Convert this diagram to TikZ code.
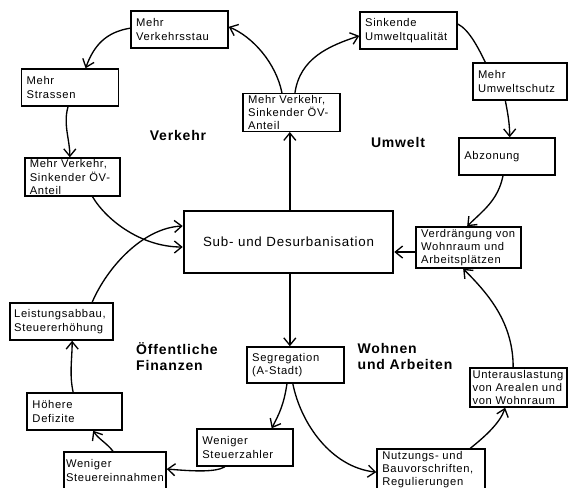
\documentclass[tikz,border=0pt]{standalone}
\usepackage{fontspec}
\setmainfont{Liberation Sans}[LetterSpace=6]
\usetikzlibrary{arrows.meta}

\tikzset{
	kasten/.style={draw, line width=1.1pt, align=left, inner xsep=0pt, inner ysep=1pt,
		minimum width=72.75pt, minimum height=27.75pt, text width=65pt,
		font=\fontsize{8.4}{10}\selectfont},
	mitte/.style={draw, line width=1.9pt, minimum width=156.75pt, minimum height=46.5pt,
		font=\fontsize{10}{12}\selectfont},
	thema/.style={align=left, inner sep=0pt, font=\fontsize{10.5}{12}\selectfont\bfseries},
	pfeil/.style={line width=1pt, -{Straight Barb[length=5.5pt,width=9pt]}},
	linie/.style={line width=1pt}}
\tikzset{every picture/.style={line width=0.75pt}}

\begin{document}
\begin{tikzpicture}[x=0.75pt,y=0.75pt,yscale=-1,xscale=1]
	\clip (0,0) rectangle (568,488);

	%Shape: Rectangle [id:zentrum]
	\node[mitte] (zentrum) at (288.5,242) {Sub- und Desurbanisation};

	%Shape: Rectangle [id:verkehr-kreis]
	\node[kasten] (verkM) at (291.5,112.5) {Mehr Verkehr,\\Sinkender ÖV-\\Anteil};
	\node[kasten] (stau) at (179.5,29.5) {Mehr\\Verkehrsstau};
	\node[kasten] (strassen) at (70,87.5) {Mehr\\Strassen};
	\node[kasten, minimum width=71.25pt, minimum height=28.5pt, text width=64pt] (verkL) at (72.5,177) {Mehr Verkehr,\\Sinkender ÖV-\\Anteil};

	%Shape: Rectangle [id:umwelt-kreis]
	\node[kasten] (qual) at (408.5,30.5) {Sinkende\\Umweltqualität};
	\node[kasten, minimum width=70.5pt, text width=63pt] (schutz) at (520,81.5) {Mehr\\Umweltschutz};
	\node[kasten, minimum width=72pt, text width=64pt] (abzon) at (507,156.5) {Abzonung};
	\node[kasten, minimum width=78.75pt, minimum height=30.75pt, text width=71pt] (verdr) at (468.5,247.5) {Verdrängung von\\Wohnraum und\\Arbeitsplätzen};

	%Shape: Rectangle [id:wohnen-kreis]
	\node[kasten, minimum height=27pt] (segr) at (295.5,365) {Segregation\\(A-Stadt)};
	\node[kasten, minimum width=81pt, minimum height=30.75pt, text width=73pt,
		font=\fontsize{8.4}{9.7}\selectfont] (nutz) at (431,469.5) {Nutzungs- und\\Bauvorschriften,\\Regulierungen};
	\node[kasten, minimum height=29.25pt, text width=69pt] (unter) at (518.5,387.5) {Unterauslastung\\von Arealen und\\von Wohnraum};

	%Shape: Rectangle [id:finanzen-kreis]
	\node[kasten, minimum width=72pt, text width=64pt] (zahler) at (245,447.5) {Weniger\\Steuerzahler};
	\node[kasten, minimum width=76.5pt, text width=73.5pt] (einn) at (115,470.5) {Weniger\\Steuereinnahmen};
	\node[kasten, minimum width=71.25pt, text width=63pt] (defiz) at (74.5,411.5) {Höhere\\Defizite};
	\node[kasten, minimum width=77.25pt, text width=71pt] (leist) at (61.5,321.5) {Leistungsabbau,\\Steuererhöhung};

	% Text Node
	\node[thema] (verkehr) at (178,135) {Verkehr};
	% Text Node
	\node[thema] (umwelt) at (398,142) {Umwelt};
	% Text Node
	\node[thema] (finanzen) at (177,357) {Öffentliche\\Finanzen};
	% Text Node
	\node[thema] (wohnen) at (405,356) {Wohnen\\und Arbeiten};

	%Straight Lines
	\draw[pfeil] ([xshift=1pt]zentrum.north) -- ([xshift=1pt]zentrum.north |- verkM.south);
	\draw[pfeil] ([xshift=1pt]zentrum.south) -- ([xshift=1pt]zentrum.south |- segr.north);
	\draw[pfeil] ([yshift=3.4pt]verdr.west) -- ([yshift=3.4pt]zentrum.east |- verdr.west);

	%Curve Lines (Verkehr)
	\draw[pfeil] (verkM.116) .. controls +(-6,-30) and +(24,10) .. ([yshift=-2pt]stau.east);
	\draw[pfeil] ([yshift=-1pt]stau.west) .. controls +(-25,4) and +(8,-22) .. (strassen.51);
	\draw[pfeil] ([xshift=-1.5pt]strassen.south) .. controls +(-5,18) and +(0,-18) .. ([xshift=-2pt]verkL.north);
	\draw[pfeil] ([xshift=15pt]verkL.south) .. controls +(15,25) and +(-40,0) .. ([yshift=3.75pt]zentrum.west);

	%Curve Lines (Umwelt)
	\draw[pfeil] (verkM.80) .. controls +(5,-35) and +(-30,10) .. ([yshift=4pt]qual.west);
	\draw[linie] ([yshift=-4.9pt]qual.east) .. controls +(12,6) and +(-6,-12) .. ([xshift=-26pt]schutz.north);
	\draw[pfeil] ([xshift=-11pt]schutz.south) .. controls +(3,15) and +(0,-12) .. ([xshift=2pt]abzon.north);
	\draw[pfeil] ([xshift=-3pt]abzon.south) .. controls +(-5,25) and +(15,-15) .. ([xshift=-1pt]verdr.north);

	%Curve Lines (Wohnen und Arbeiten)
	\draw[pfeil] ([xshift=-2pt]segr.south) .. controls +(8,40) and +(-45,-5) .. ([yshift=2pt]nutz.west);
	\draw[pfeil] ([xshift=29.5pt]nutz.north) .. controls +(15,-12) and +(-5,15) .. ([xshift=-10pt]unter.south);
	\draw[pfeil] ([xshift=-4pt]unter.north) .. controls +(0,-45) and +(25,25) .. ([xshift=-4pt]verdr.south);

	%Curve Lines (Finanzen)
	\draw[pfeil] ([xshift=-6.4pt]segr.south) .. controls +(-3,20) and +(8,-15) .. ([xshift=20pt]zahler.north);
	\draw[pfeil] ([xshift=-15pt]zahler.south) .. controls +(-10,6) and +(25,2) .. ([yshift=-1.1pt]einn.east);
	\draw[pfeil] ([xshift=-1.5pt]einn.north) .. controls +(-6,-8) and +(5,8) .. ([xshift=14pt]defiz.south);
	\draw[pfeil] ([xshift=-1pt]defiz.north) .. controls +(-4,-18) and +(0,18) .. ([xshift=8pt]leist.south);
	\draw[pfeil] ([xshift=23pt]leist.north) .. controls +(15,-35) and +(-40,2) .. ([yshift=-12pt]zentrum.west);

\end{tikzpicture}
\end{document}
